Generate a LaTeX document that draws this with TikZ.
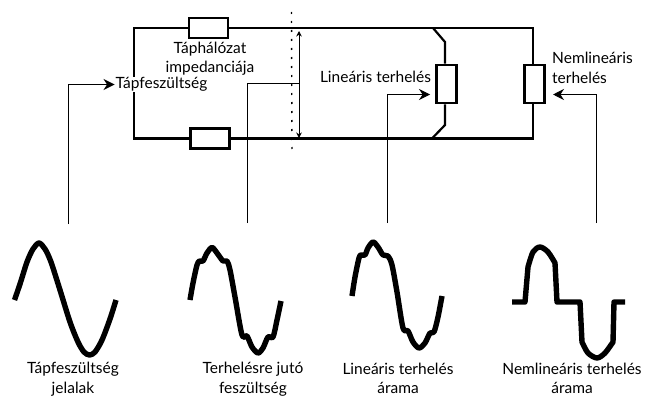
\documentclass[tikz,border=0pt]{standalone}
\usepackage{fontspec}
\setmainfont{Lato}
\usetikzlibrary{arrows.meta}
\tikzset{
    every node/.style={font=\fontsize{15.5}{19.5}\selectfont, align=center, inner sep=0pt}
}
\tikzset{
    impedance/.style={draw, line width=2.2pt, minimum width=39pt, minimum height=20pt},
    loadbox/.style={draw, line width=2.2pt, minimum width=20pt, minimum height=38.5pt},
    wire/.style={line width=2.2pt},
    pointer/.style={line width=1pt, -{Stealth[length=11pt,width=11pt]}},
    wave/.style={line width=5.4pt, line join=round}
}
\begin{document}
\begin{tikzpicture}[x=1pt, y=-1pt]
	\useasboundingbox (0,0) rectangle (645,396);

	% circuit
	\node (zt) [impedance] at (208.5,28) {};
	\node (zb) [impedance] at (210,138.5) {};
	\node (rl) [loadbox] at (446.5,84) {};
	\node (rn) [loadbox] at (534.5,84) {};
	\coordinate (tl) at (134,28);
	\coordinate (bl) at (134,138.5);
	\coordinate (tr) at (533,28);
	\coordinate (br) at (533,138.5);
	\coordinate (tj) at (433,28);
	\coordinate (bj) at (432,138.5);
	\coordinate (tk) at (445,42);
	\coordinate (bk) at (445,125);
	\draw[wire] (zt) -- (tl) -- (bl) -- (zb);
	\draw[wire] (zt) -- (tr) -- (rn.north -| tr);
	\draw[wire] (zb) -- (br) -- (rn.south -| br);
	\draw[wire] (tj) -- (tk) -- (rl.north -| tk);
	\draw[wire] (bj) -- (bk) -- (rl.south -| bk);

	% section line and voltage
	\coordinate (cuta) at (291.5,12);
	\coordinate (cutb) at (292,155);
	\draw[line width=1.4pt, dash pattern=on 2pt off 7pt] (cuta) -- (cutb);
	\coordinate (vt) at (299,31);
	\coordinate (vb) at (299,138);
	\coordinate (vm) at (299,83);
	\draw[line width=1pt, {Stealth[length=5.5pt,width=5.5pt]}-{Stealth[length=5.5pt,width=5.5pt]}] (vt) -- (vb);

	% labels
	\node (net) at (210,58.5) {Táphálózat\\impedanciája};
	\node (sup) [fill=white, inner xsep=1pt, inner ysep=0.5pt] at (161.5,84.5) {Tápfeszültség};
	\node (lin) at (375.5,76.5) {Lineáris terhelés};
	\node (non) [align=left, anchor=west] at (552,68) {Nemlineáris\\terhelés};
	\node (w1) at (73,379) {Tápfeszültség\\jelalak};
	\node (w2) at (253,379) {Terhelésre jutó\\feszültség};
	\node (w3) at (398,378.5) {Lineáris terhelés\\árama};
	\node (w4) at (572,378.5) {Nemlineáris terhelés\\árama};

	% pointers
	\coordinate (pa) at (68,224);
	\coordinate (pb) at (247.5,223);
	\coordinate (pc) at (387,223);
	\coordinate (pd) at (596,223);
	\coordinate (hc) at (430,94.5);
	\coordinate (hd) at (553,94.5);
	\draw[pointer] (pa) |- (sup.west);
	\draw[line width=1pt] (pb) |- (vm);
	\draw[pointer] (pc) |- (hc);
	\draw[pointer] (pd) |- (hd);

	% waveforms
	\draw[wave] plot[smooth] coordinates {(14.5,300) (20,284) (27,262) (33,249) (39,243) (45,249) (51,262) (60,290) (70,322) (78,342) (84,352) (89.5,355) (95,352) (102,340) (110,319) (116,300)};
	\draw[wave] plot[smooth] coordinates {(190,300) (193,283) (197,265) (199.5,261) (203,261) (207,253) (212,247.5) (217,253) (223,261) (227,261) (230,270) (235,297) (242,335) (247,336) (252,347) (258,353) (263,348) (268,337) (273,337) (277,320) (281,301)};
	\draw[wave] plot[smooth] coordinates {(352,296) (355,277) (359,258) (361,255) (365,255) (368,248) (373,242) (378,247) (383,255) (388,256) (392,265) (397,292) (403,328) (408,331) (413,342) (419,348) (425,343) (430,333) (434,332) (438,317) (442,296)};
	\draw[wave] (512,302) -- (525,302) -- (528,267) -- plot[smooth] coordinates {(528,267) (533,252) (540,247) (548,252) (555,263)} -- (557,302) -- (580,302) -- (582,342) -- plot[smooth] coordinates {(582,342) (588,353) (597,358) (605,353) (613,342)} -- (614,302) -- (625,302);
\end{tikzpicture}
\end{document}
